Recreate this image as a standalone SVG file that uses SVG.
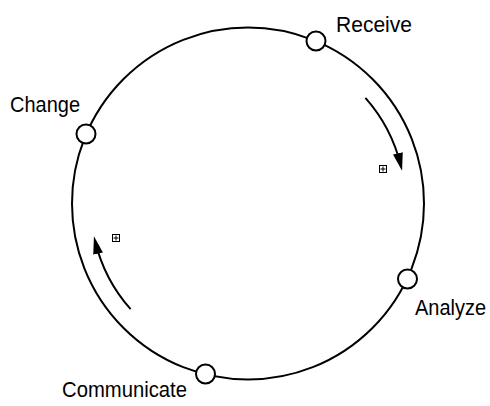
<svg xmlns="http://www.w3.org/2000/svg" width="490" height="406" viewBox="0 0 490 406">
<style>
.ring{fill:none;stroke:#000;stroke-width:2}
.node{fill:#fff;stroke:#000;stroke-width:2}
.lbl{font-family:"Liberation Sans",Arial,sans-serif;font-size:22.5px;fill:#000}
.arr{fill:none;stroke:#000;stroke-width:2}
.ic{fill:#fff;stroke:#000;stroke-width:1}
</style>
<defs>
<marker id="ah" markerUnits="userSpaceOnUse" markerWidth="18" markerHeight="11" refX="13" refY="5" orient="auto">
<path d="M0,0 L18,5 L0,10 Z" fill="#000"/>
</marker>
</defs>
<rect width="490" height="406" fill="#fff"/>
<g id="connectors">
<circle class="ring" cx="248" cy="203.5" r="176"/>
<path class="arr" d="M365.4,97.8 A158,158 0 0 1 400.9,166.0" marker-end="url(#ah)"/>
<path class="arr" d="M130.6,309.2 A158,158 0 0 1 95.1,241.0" marker-end="url(#ah)"/>
</g>
<g id="icon1">
<rect class="ic" x="379.5" y="165.5" width="7" height="7"/>
<path d="M383,166.5 V171.5 M380.5,169 H385.5" stroke="#000" stroke-width="1"/>
</g>
<g id="icon2">
<rect class="ic" x="112.5" y="234.5" width="7" height="7"/>
<path d="M116,235.5 V240.5 M113.5,238 H118.5" stroke="#000" stroke-width="1"/>
</g>
<g id="receive">
<circle class="node" cx="316" cy="41" r="9.5"/>
<text class="lbl" x="336" y="32" textLength="76" lengthAdjust="spacingAndGlyphs">Receive</text>
</g>
<g id="analyze">
<circle class="node" cx="407.5" cy="279" r="9.5"/>
<text class="lbl" transform="translate(415,315) scale(1,1.1)" x="0" y="0" style="font-size:20.5px" textLength="71" lengthAdjust="spacingAndGlyphs">Analyze</text>
</g>
<g id="communicate">
<circle class="node" cx="205.5" cy="374" r="9.5"/>
<text class="lbl" x="62" y="397" textLength="125" lengthAdjust="spacingAndGlyphs">Communicate</text>
</g>
<g id="change">
<circle class="node" cx="86" cy="134" r="9.5"/>
<text class="lbl" x="10" y="112" textLength="70" lengthAdjust="spacingAndGlyphs">Change</text>
</g>
</svg>
